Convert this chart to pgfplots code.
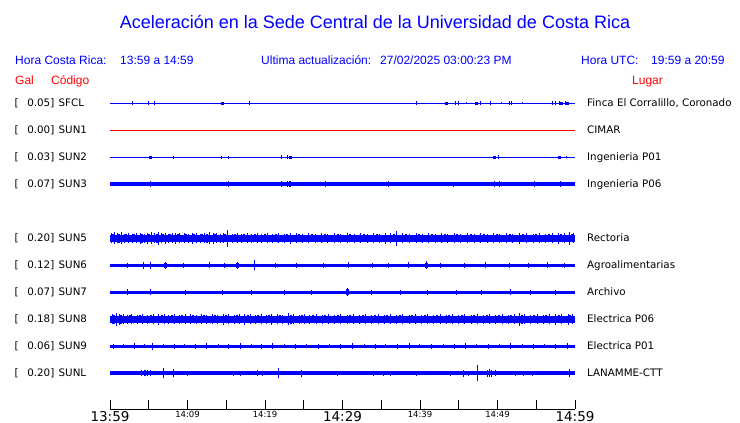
\documentclass[border=0pt]{standalone}
\usepackage{pgfplots}
\pgfplotsset{compat=1.18}
\usepackage{fontspec}
\setmainfont{DejaVu Sans}
\newfontfamily\arialf{Liberation Sans}
\definecolor{bl}{RGB}{0,0,255}
\definecolor{rd}{RGB}{255,0,0}
\newcommand\labf{\fontsize{10.3}{12}\selectfont}
\newcommand\hdf{\arialf\fontsize{12}{14}\selectfont}
\newcommand\rowlab[4]{%
  \node[anchor=base west,inner sep=0pt,font=\labf] at (14.5pt,#1) {[};
  \node[anchor=base east,inner sep=0pt,font=\labf] at (54.5pt,#1) {#2]};
  \node[anchor=base west,inner sep=0pt,font=\labf] at (58.5pt,#1) {#3};
  \node[anchor=base west,inner sep=0pt,font=\labf] at (587pt,#1) {#4};}
\pgfplotsset{
  spk/.style={forget plot, draw=bl, color=bl, line width=#1, mark=none, -,
    quiver={u=0, v=2*\thisrow{e}, every arrow/.append style={-}}},
  spk/.default=1pt,
  base/.style={forget plot, draw=bl, line width=#1, mark=none}}
\begin{document}
\begin{tikzpicture}
\useasboundingbox (0,0) rectangle (740pt,423pt);
% title and header
\node[anchor=base,inner sep=0pt,text=bl,font=\arialf\fontsize{18}{20}\selectfont] at (375pt,394pt) {Aceleración en la Sede Central de la Universidad de Costa Rica};
\node[anchor=base west,inner sep=0pt,text=bl,font=\hdf] at (15pt,358.5pt) {Hora Costa Rica:};
\node[anchor=base west,inner sep=0pt,text=bl,font=\hdf] at (120pt,358.5pt) {13:59 a 14:59};
\node[anchor=base west,inner sep=0pt,text=bl,font=\hdf] at (261pt,358.5pt) {Ultima actualización:};
\node[anchor=base west,inner sep=0pt,text=bl,font=\hdf] at (380pt,358.5pt) {27/02/2025 03:00:23 PM};
\node[anchor=base west,inner sep=0pt,text=bl,font=\hdf] at (581pt,358.5pt) {Hora UTC:};
\node[anchor=base west,inner sep=0pt,text=bl,font=\hdf] at (651pt,358.5pt) {19:59 a 20:59};
\node[anchor=base west,inner sep=0pt,text=rd,font=\hdf] at (15pt,338pt) {Gal};
\node[anchor=base west,inner sep=0pt,text=rd,font=\hdf] at (51pt,338pt) {Código};
\node[anchor=base west,inner sep=0pt,text=rd,font=\hdf] at (632pt,338pt) {Lugar};
% row labels
\rowlab{316pt}{0.05}{SFCL}{Finca El Corralillo, Coronado}
\rowlab{289pt}{0.00}{SUN1}{CIMAR}
\rowlab{262pt}{0.03}{SUN2}{Ingenieria P01}
\rowlab{235pt}{0.07}{SUN3}{Ingenieria P06}
\rowlab{181pt}{0.20}{SUN5}{Rectoria}
\rowlab{154pt}{0.12}{SUN6}{Agroalimentarias}
\rowlab{127pt}{0.07}{SUN7}{Archivo}
\rowlab{100pt}{0.18}{SUN8}{Electrica P06}
\rowlab{73pt}{0.06}{SUN9}{Electrica P01}
\rowlab{46pt}{0.20}{SUNL}{LANAMME-CTT}
\begin{axis}[
  at={(110pt,13.5pt)}, anchor=south west,
  scale only axis, width=465pt, height=314.5pt,
  xmin=0, xmax=60, ymin=0, ymax=314.5,
  clip=false,
  axis x line=bottom, axis y line=none,
  x axis line style={-, line width=0.8pt, black},
  xtick={0,5,...,60},
  tick align=inside, major tick length=9pt,
  xtick style={black, line width=0.8pt},
  ytick=\empty,
  xticklabels={{\fontsize{13.5}{14}\selectfont 13:59},{},
    {\fontsize{8.5}{9}\selectfont 14:09},{},
    {\fontsize{8.5}{9}\selectfont 14:19},{},
    {\fontsize{13.5}{14}\selectfont 14:29},{},
    {\fontsize{8.5}{9}\selectfont 14:39},{},
    {\fontsize{8.5}{9}\selectfont 14:49},{},
    {\fontsize{13.5}{14}\selectfont 14:59}},
  xticklabel style={inner sep=0pt, anchor=north, yshift=-1.5pt},
]
% ---------------- SFCL (row 306.2)
\addplot[base=1pt] coordinates {(0,306.2) (60,306.2)};
\addplot[spk] table[x=x, y expr={306.2-\thisrow{e}}] {
x e
2.88 1.8
4.94 1.8
5.72 1.8
17.97 1.8
39.52 1.8
44.52 1.8
45.03 1.8
47.87 1.8
49.16 1.8
51.61 1.8
51.87 1.8
57.16 1.8
57.42 1.8
58.06 1.8
58.71 1.8
45.94 1
50.58 1
53.29 1
};
\addplot[spk=3pt] table[x=x, y expr={306.2-\thisrow{e}}] {
x e
14.49 1.5
43.48 1.5
47.35 1.5
58.3 1.5
58.97 1.5
};
% ---------------- SUN1 (row 279.2)
\addplot[forget plot, draw=rd, line width=1pt, mark=none] coordinates {(0,279.2) (60,279.2)};
% ---------------- SUN2 (row 252.2)
\addplot[base=1pt] coordinates {(0,252.2) (60,252.2)};
\addplot[spk] table[x=x, y expr={252.2-\thisrow{e}}] {
x e
8.17 1.5
14.36 1.5
15.26 1.5
22.1 1.8
22.84 1.8
50.19 1.8
58.84 1
};
\addplot[spk=3pt] table[x=x, y expr={252.2-\thisrow{e}}] {
x e
5.25 1.5
23.23 1.5
49.64 1.5
58.06 1.5
};
% ---------------- SUN3 (row 225.2)
\addplot[base=4pt] coordinates {(0,225.2) (60,225.2)};
\addplot[spk] table[x=x, y expr={225.2-\thisrow{e}}] {
x e
5.2 3
15.26 3
22.1 3
22.84 3
27.78 3
35.91 3
44.3 2.5
49.64 3
50.23 3
54.75 3
58.1 3
};
\addplot[spk=2.5pt] table[x=x, y expr={225.2-\thisrow{e}}] {
x e
23.23 3
};
% ---------------- SUN5 (row 171.2)
\addplot[base=6.5pt] coordinates {(0,171.2) (60,171.2)};
\addplot[spk] table[x=x, y expr={171.2-\thisrow{e}}] {
x e
0.2 5
0.6 6
1.0 5
1.5 6
1.9 4.5
2.4 5
2.9 4.5
3.4 5
3.9 5.5
4.4 4.5
4.9 5.5
5.3 6
5.7 5
6.2 6.5
6.6 5
7.1 5.5
7.6 4.5
8.0 5
8.5 5.5
9.0 5
9.6 5
10.1 4.5
10.6 5.5
11.2 5
11.7 4.5
12.2 5
12.8 6
13.3 5.5
13.8 5
14.2 4.5
14.6 5
15.2 8.5
15.8 4.5
16.4 5
17.0 4.5
17.7 5
18.3 4.5
19.0 5
19.6 4.5
20.3 5
21.0 4.5
21.8 5
22.5 4.5
23.3 5.5
24.0 5
24.8 4.5
25.6 5
26.5 4.5
27.3 5
28.1 4.5
29.0 5
29.8 4.5
30.6 5
31.5 4.5
32.3 5
33.2 4.5
34.0 5
34.8 4.5
35.6 5.5
36.2 5
37.0 7.5
37.8 5
38.6 4.5
39.5 5
40.3 4.5
41.1 5
42.0 4.5
42.8 5
43.6 4.5
44.4 5
45.2 4.5
46.1 5
47.0 4.5
47.8 5
48.7 4.5
49.5 5
50.3 4.5
51.2 5
52.0 4.5
52.9 5.5
53.7 5
54.6 4.5
55.4 5
56.2 4.5
57.1 5
57.9 5.5
58.6 5
59.3 6.5
59.8 5
};
\addplot[spk=2pt] table[x=x, y expr={171.2-\thisrow{e}}] {
x e
0.4 4
1.2 4.5
2.1 4
3.1 4
4.1 4.5
5.0 4
6.0 4.5
6.9 4
7.8 4
8.8 4
9.8 4
10.8 4
11.9 4
12.5 4.5
13.6 4
14.9 4
16.1 4
17.3 4
18.7 4
20.0 4
21.4 4
22.9 4
24.4 4
26.0 4
27.7 4
29.4 4
31.0 4
32.8 4
34.4 4
36.6 4
38.2 4
39.9 4
41.6 4
43.2 4
44.8 4
46.6 4
48.3 4
49.9 4
51.6 4
53.3 4
55.0 4
56.6 4
58.2 4
59.6 4
};
% ---------------- SUN6 (row 144.2)
\addplot[base=3.5pt] coordinates {(0,144.2) (60,144.2)};
\addplot[spk] table[x=x, y expr={144.2-\thisrow{e}}] {
x e
2.2 2.5
4.3 3.5
5.2 3.5
7.1 3.5
9.5 2.5
12.9 3
14.8 2.5
16.5 3.5
18.6 5
21.3 2.5
24.0 2.5
27.5 2.5
30.8 3
33.9 2.5
36.0 2.5
38.5 3
40.9 4
42.6 2.5
45.8 2.5
48.5 3
51.6 2.5
54.0 2.5
56.5 3
58.7 2.5
};
\addplot[spk=3pt] table[x=x, y expr={144.2-\thisrow{e}}] {
x e
7.1 2.5
16.5 2.5
40.9 2.5
};
% ---------------- SUN7 (row 117.2)
\addplot[base=3.5pt] coordinates {(0,117.2) (60,117.2)};
\addplot[spk] table[x=x, y expr={117.2-\thisrow{e}}] {
x e
2.3 3
5.2 3
9.8 2.5
14.5 2.5
18.2 2.5
22.5 2.5
26.0 2.5
30.7 4
33.8 2.5
37.5 2.5
41.0 2.5
44.7 2.5
48.0 2.5
51.7 3
54.2 2.5
57.5 2.5
};
\addplot[spk=3pt] table[x=x, y expr={117.2-\thisrow{e}}] {
x e
30.7 3
};
% ---------------- SUN8 (row 90.2)
\addplot[base=7pt] coordinates {(0,90.2) (60,90.2)};
\addplot[spk] table[x=x, y expr={90.2-\thisrow{e}}] {
x e
0.3 5
0.8 6.5
1.2 5.5
1.7 5
2.3 4.5
2.8 5
3.5 4.5
4.2 5
4.9 4.5
5.6 5
6.3 5.5
7.0 5
7.6 4.5
8.3 5
9.0 4.5
9.7 5
10.4 5
11.1 4.5
11.8 5
12.5 4.5
13.2 5
13.9 4.5
14.6 5.5
15.3 5
16.0 4.5
16.7 5
17.4 5.5
18.1 5
18.8 4.5
19.5 5
20.2 4.5
20.9 5.5
21.6 5
22.3 4.5
23.0 6
23.7 5
24.4 4.5
25.1 5
25.8 4.5
26.6 5
27.4 4.5
28.2 5
29.0 4.5
29.8 5
30.6 4.5
31.4 5
32.2 4.5
33.0 5
33.8 4.5
34.6 5
35.4 4.5
36.2 5
37.0 4.5
37.8 5
38.6 4.5
39.4 5
40.2 4.5
41.0 5
41.8 4.5
42.6 5
43.4 4.5
44.2 5
45.0 4.5
45.8 5
46.6 4.5
47.4 5
48.2 4.5
49.0 5
49.8 4.5
50.6 5
51.4 4.5
52.2 5
52.8 6.5
53.5 5
54.3 4.5
55.1 5
55.9 4.5
56.7 5
57.5 5.5
58.3 5
59.1 5.5
59.7 5
};
\addplot[spk=2pt] table[x=x, y expr={90.2-\thisrow{e}}] {
x e
0.55 4.5
1.45 4.5
2.55 4
3.85 4
5.25 4
6.65 4
7.95 4
9.35 4
10.75 4
12.15 4
13.55 4
14.95 4
16.35 4
17.75 4
19.15 4
20.55 4
21.95 4
23.35 4.5
24.75 4
26.2 4
27.8 4
29.4 4
31.0 4
32.6 4
34.2 4
35.8 4
37.4 4
39.0 4
40.6 4
42.2 4
43.8 4
45.4 4
47.0 4
48.6 4
50.2 4
51.8 4
53.15 4.5
54.7 4
56.3 4
57.9 4
59.4 4
};
% ---------------- SUN9 (row 63.2)
\addplot[base=2.5pt] coordinates {(0,63.2) (60,63.2)};
\addplot[spk] table[x=x, y expr={63.2-\thisrow{e}}] {
x e
0.5 2.5
1.8 2
3.2 3
4.5 2
5.5 3.5
6.9 2
8.3 2.5
9.6 2
11.0 2.5
12.5 3
14.0 2
15.3 2.5
16.8 3
18.2 2
19.5 2.5
21.0 3
22.5 2
23.9 2.5
25.4 2
26.9 2.5
28.3 2
29.8 2.5
31.3 3
32.8 2
34.2 2.5
35.6 2
37.1 2.5
38.6 3
40.0 2
41.5 2.5
43.0 2
44.4 2.5
45.9 3
47.3 2
48.8 2.5
50.3 2
51.7 3
53.2 2
54.6 2.5
56.1 2
57.5 2.5
59.0 3
};
% ---------------- SUNL (row 36.2)
\addplot[base=4pt] coordinates {(0,36.2) (60,36.2)};
\addplot[spk] table[x=x, y expr={36.2-\thisrow{e}}] {
x e
4.09 3
4.39 3
4.61 3
4.86 3
5.2 3
6.88 5
8.22 4
9.97 2.5
15.91 2.5
16.81 2.5
19.06 3
19.74 2.5
21.77 5
24.68 3.5
29.33 2.5
34.03 2.5
35.26 2.5
36.13 2.5
39.52 2.5
43.91 2.5
45.55 3.5
46.23 2.5
47.39 8
48.77 3.5
49.03 4
49.29 3.5
49.68 3
52.26 2.5
53.33 2.5
54.54 2.5
59.26 4
};
\end{axis}
\end{tikzpicture}
\end{document}
